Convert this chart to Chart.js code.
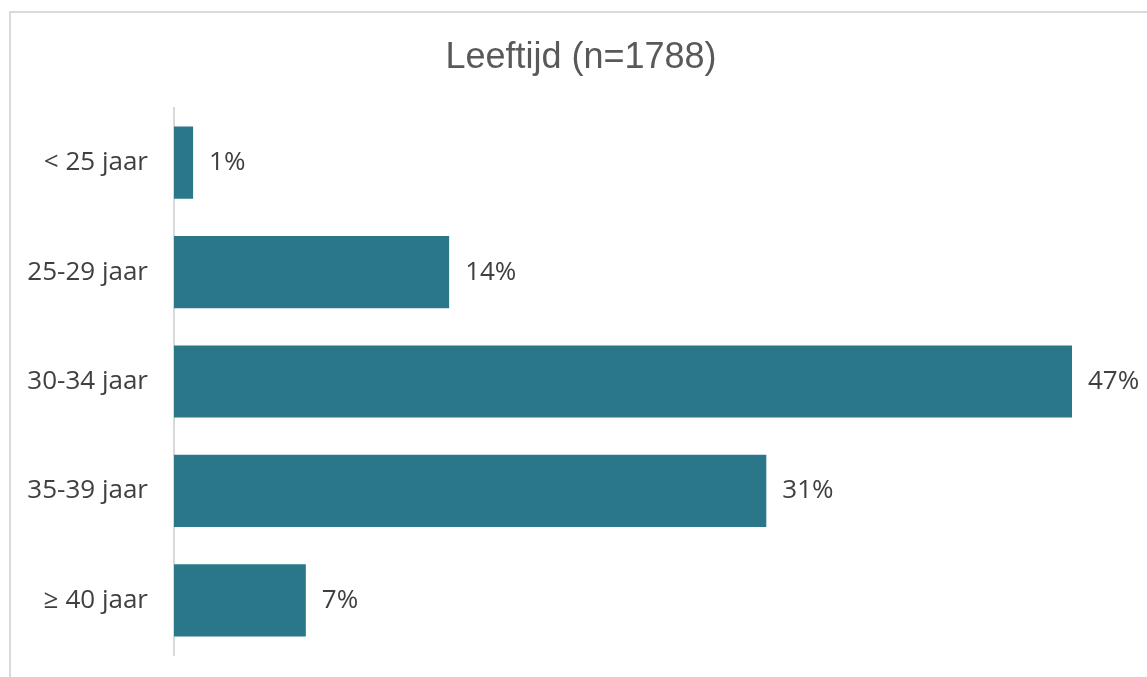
<!DOCTYPE html>
<html>
<head>
<meta charset="utf-8">
<script src="https://cdn.jsdelivr.net/npm/chart.js@4.4.0/dist/chart.umd.min.js"></script>
<style>
  body { margin: 0; background: #fff; overflow: hidden; }
  #frame { position: absolute; left: 9px; top: 11px; width: 1300px; height: 800px; border: 2px solid #d9d9d9; }
  #wrap { position: absolute; left: 0; top: 0; width: 1147px; height: 677px; }
</style>
</head>
<body>
<div id="frame"></div>
<div id="wrap"><canvas id="leeftijd" width="1147" height="677"></canvas></div>
<script>
var chartTitle = "Leeftijd (n=1788)";
var categories = ["< 25 jaar", "25-29 jaar", "30-34 jaar", "35-39 jaar", "\u2265 40 jaar"];
var percentages = [1.0, 14.4, 47.0, 31.0, 6.9];
var valueLabels = ["1%", "14%", "47%", "31%", "7%"];

// draws the % next to each bar + the title (title sits a bit right of canvas centre)
var barLabels = {
  id: "barLabels",
  afterDatasetsDraw: function (chart) {
    var ctx = chart.ctx;
    var meta = chart.getDatasetMeta(0);
    ctx.save();
    ctx.font = "26px 'Open Sans'";
    ctx.fillStyle = "#404040";
    ctx.textAlign = "left";
    ctx.textBaseline = "middle";
    meta.data.forEach(function (bar, i) {
      ctx.fillText(valueLabels[i], bar.x + 16, bar.y);
    });

    ctx.font = "36px 'Liberation Sans', Arial";
    ctx.fillStyle = "#595959";
    ctx.textAlign = "center";
    ctx.fillText(chartTitle, 581, 58);
    ctx.restore();
  }
};

new Chart(document.getElementById("leeftijd"), {
  type: "bar",
  data: {
    labels: categories,
    datasets: [{
      data: percentages,
      backgroundColor: "#2b778a",
      barPercentage: 0.66,
      categoryPercentage: 1
    }]
  },
  options: {
    indexAxis: "y",
    responsive: false,
    animation: false,
    layout: { padding: { left: 0, right: 75, top: 108, bottom: 22 } },
    plugins: {
      legend: { display: false },
      tooltip: { enabled: false },
      title: { display: false }
    },
    scales: {
      x: { display: false, min: 0, max: 47 },
      y: {
        grid: { display: false, drawTicks: false },
        border: { display: true, color: "#d9d9d9", width: 2 },
        ticks: { color: "#404040", font: { family: "'Open Sans'", size: 26 }, padding: 26 },
        afterFit: function (axis) {
          axis.width = 174;
          // tick padding should not push the plot area in from top/bottom
          axis.paddingTop = 0;
          axis.paddingBottom = 0;
        }
      }
    }
  },
  plugins: [barLabels]
});
</script>
</body>
</html>
